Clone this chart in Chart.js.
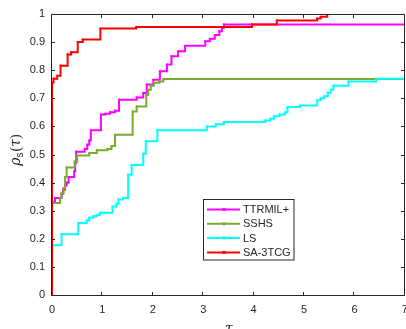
<!DOCTYPE html>
<html>
<head>
<meta charset="utf-8">
<script src="https://cdn.jsdelivr.net/npm/chart.js@4.4.1/dist/chart.umd.min.js"></script>
<style>
html,body{margin:0;padding:0;background:#fff;}
#wrap{width:406px;height:329px;position:relative;}
</style>
</head>
<body>
<div id="wrap"><canvas id="c" width="406" height="329"></canvas></div>
<script>
// ---- data (performance profile steps: at tau the fraction rises to rho) ----
const seriesNames = ["TTRMIL+", "SSHS", "LS", "SA-3TCG"];
const xTicks = [0, 1, 2, 3, 4, 5, 6, 7];
const yTicks = [0, 0.1, 0.2, 0.3, 0.4, 0.5, 0.6, 0.7, 0.8, 0.9, 1];

const ttrmilTau = [0, 0, 0.06, 0.19, 0.22, 0.26, 0.29, 0.33, 0.44, 0.46, 0.48, 0.65, 0.70, 0.74, 0.77, 0.97, 1.05, 1.15, 1.25, 1.33, 1.68, 1.81, 1.88, 2.01, 2.14, 2.28, 2.37, 2.50, 2.64, 3.04, 3.13, 3.23, 3.32, 3.37, 3.41, 7];
const ttrmilRho = [0, 0.33, 0.345, 0.36, 0.375, 0.39, 0.40, 0.42, 0.44, 0.47, 0.51, 0.52, 0.535, 0.55, 0.586, 0.642, 0.645, 0.65, 0.656, 0.695, 0.703, 0.719, 0.749, 0.766, 0.796, 0.82, 0.85, 0.867, 0.887, 0.903, 0.912, 0.925, 0.939, 0.95, 0.963, 0.963];

const sshsTau = [0, 0, 0.16, 0.19, 0.23, 0.26, 0.29, 0.45, 0.50, 0.74, 0.89, 1.10, 1.18, 1.25, 1.60, 1.68, 1.87, 1.91, 1.96, 2.02, 2.13, 2.21, 7];
const sshsRho = [0, 0.327, 0.345, 0.362, 0.38, 0.42, 0.454, 0.475, 0.496, 0.505, 0.515, 0.52, 0.53, 0.57, 0.653, 0.671, 0.713, 0.73, 0.745, 0.755, 0.76, 0.769, 0.769];

const lsTau = [0, 0, 0.19, 0.52, 0.69, 0.74, 0.82, 0.89, 0.95, 1.20, 1.28, 1.32, 1.41, 1.51, 1.58, 1.81, 1.86, 2.09, 3.07, 3.25, 3.41, 4.23, 4.33, 4.40, 4.51, 4.62, 4.67, 4.92, 5.26, 5.33, 5.40, 5.47, 5.53, 5.58, 5.88, 6.43, 7];
const lsRho = [0, 0.177, 0.216, 0.256, 0.265, 0.275, 0.28, 0.285, 0.293, 0.315, 0.325, 0.34, 0.345, 0.428, 0.463, 0.503, 0.547, 0.586, 0.60, 0.608, 0.616, 0.621, 0.627, 0.636, 0.642, 0.65, 0.669, 0.674, 0.693, 0.70, 0.707, 0.72, 0.73, 0.745, 0.76, 0.77, 0.77];

const sa3Tau = [0, 0, 0.03, 0.105, 0.17, 0.31, 0.38, 0.51, 0.61, 0.96, 1.67, 3.97, 4.46, 5.26, 5.33, 5.46, 7];
const sa3Rho = [0, 0.756, 0.77, 0.78, 0.816, 0.856, 0.864, 0.90, 0.909, 0.948, 0.954, 0.963, 0.977, 0.984, 0.99, 1.0, 1.0];

const colors = ["#ff00ff", "#77ac30", "#00ffff", "#ff0000"];

function pts(t, r) { return t.map((v, i) => ({x: v, y: r[i]})); }

const axisColor = "#262626";
const tickFont = {family: "'Liberation Sans', Arial, sans-serif", size: 11};

const datasets = [
  {label: seriesNames[0], data: pts(ttrmilTau, ttrmilRho), borderColor: colors[0], backgroundColor: colors[0], order: 3},
  {label: seriesNames[1], data: pts(sshsTau, sshsRho), borderColor: colors[1], backgroundColor: colors[1], order: 2},
  {label: seriesNames[2], data: pts(lsTau, lsRho), borderColor: colors[2], backgroundColor: colors[2], order: 1},
  {label: seriesNames[3], data: pts(sa3Tau, sa3Rho), borderColor: colors[3], backgroundColor: colors[3], order: 0}
].map(d => Object.assign(d, {stepped: 'before', borderWidth: 2, pointRadius: 1.1, pointHoverRadius: 1.1, pointBorderWidth: 0, fill: false, tension: 0}));

const boxPlugin = {
  id: 'boxPlugin',
  afterDraw(chart) {
    const ctx = chart.ctx, a = chart.chartArea;
    const xs = chart.scales.x, ys = chart.scales.y;
    ctx.save();
    ctx.strokeStyle = axisColor;
    ctx.lineWidth = 1;
    const L = Math.round(a.left) - 0.5, R = Math.round(a.right) - 0.5, T = Math.round(a.top) + 0.5, B = Math.round(a.bottom) + 0.5;
    ctx.strokeRect(L, T, R - L, B - T);
    const tl = 3.5;
    ctx.beginPath();
    xTicks.forEach(v => {
      const x = Math.round(xs.getPixelForValue(v)) - 0.5;
      ctx.moveTo(x, B); ctx.lineTo(x, B - tl);
      ctx.moveTo(x, T); ctx.lineTo(x, T + tl);
    });
    yTicks.forEach(v => {
      const y = Math.round(ys.getPixelForValue(v)) + 0.5;
      ctx.moveTo(L, y); ctx.lineTo(L + tl, y);
      ctx.moveTo(R, y); ctx.lineTo(R - tl, y);
    });
    ctx.stroke();

    // y axis label rho_s(tau)
    ctx.fillStyle = axisColor;
    ctx.translate(20, (a.top + a.bottom) / 2 - 4);
    ctx.rotate(-Math.PI / 2);
    const serifI = "italic 14px 'DejaVu Serif', 'Liberation Serif', serif";
    const serif = "14px 'Liberation Serif', serif";
    const sub = "10px 'Liberation Sans', Arial, sans-serif";
    const parts = [
      {t: "\u03C1", f: serifI, dy: 0},
      {t: "s", f: sub, dy: 3},
      {t: "(", f: serif, dy: 0},
      {t: "\u03C4", f: serifI, dy: 0},
      {t: ")", f: serif, dy: 0}
    ];
    let w = 0;
    parts.forEach(p => { ctx.font = p.f; p.w = ctx.measureText(p.t).width; w += p.w; });
    let x = -w / 2;
    ctx.textBaseline = 'alphabetic';
    parts.forEach(p => { ctx.font = p.f; ctx.fillText(p.t, x, p.dy); x += p.w + (p.t === "s" ? 1 : 0); });
    ctx.restore();

    // x axis label tau
    ctx.save();
    ctx.fillStyle = axisColor;
    ctx.font = "italic 14px 'DejaVu Serif', 'Liberation Serif', serif";
    ctx.textAlign = 'center';
    ctx.textBaseline = 'alphabetic';
    ctx.fillText("\u03C4", (a.left + a.right) / 2 + 0.5, 333);
    ctx.restore();

    // legend
    ctx.save();
    const lx = 203.5, ly = 199.5, lw = 90.5, lh = 60.5;
    ctx.fillStyle = '#fff';
    ctx.fillRect(lx, ly, lw, lh);
    ctx.strokeStyle = '#262626';
    ctx.lineWidth = 1;
    ctx.strokeRect(lx, ly, lw, lh);
    ctx.font = "11px 'Liberation Sans', Arial, sans-serif";
    ctx.textBaseline = 'middle';
    chart.data.datasets.forEach((d, i) => {
      const yy = 209.5 + i * 14.3;
      ctx.strokeStyle = d.borderColor;
      ctx.lineWidth = 2;
      ctx.beginPath(); ctx.moveTo(207, yy); ctx.lineTo(240, yy); ctx.stroke();
      ctx.fillStyle = d.borderColor;
      ctx.fillRect(222.5, yy - 1.5, 3, 3);
      ctx.fillStyle = '#262626';
      ctx.fillText(d.label, 243, yy + 0.5);
    });
    ctx.restore();
  }
};

new Chart(document.getElementById('c'), {
  type: 'line',
  data: {datasets},
  options: {
    responsive: false,
    animation: false,
    devicePixelRatio: 1,
    layout: {padding: {left: 0, right: 1, top: 14, bottom: 0}},
    plugins: {legend: {display: false}, tooltip: {enabled: false}},
    scales: {
      x: {
        type: 'linear', min: 0, max: 7,
        grid: {display: false, drawTicks: false},
        border: {display: false},
        afterFit(s) { s.height = 34; s.paddingLeft = 0; s.paddingRight = 0; },
        afterBuildTicks(s) { s.ticks = xTicks.map(v => ({value: v})); },
        ticks: {color: axisColor, font: tickFont, padding: 8, maxRotation: 0, autoSkip: false, callback: v => String(v)}
      },
      y: {
        type: 'linear', min: 0, max: 1,
        grid: {display: false, drawTicks: false},
        border: {display: false},
        afterFit(s) { s.width = 52; s.paddingTop = 0; s.paddingBottom = 0; },
        afterBuildTicks(s) { s.ticks = yTicks.map(v => ({value: v})); },
        ticks: {color: axisColor, font: tickFont, padding: 7, autoSkip: false, callback: v => String(Math.round(v * 10) / 10)}
      }
    }
  },
  plugins: [boxPlugin]
});
</script>
</body>
</html>
